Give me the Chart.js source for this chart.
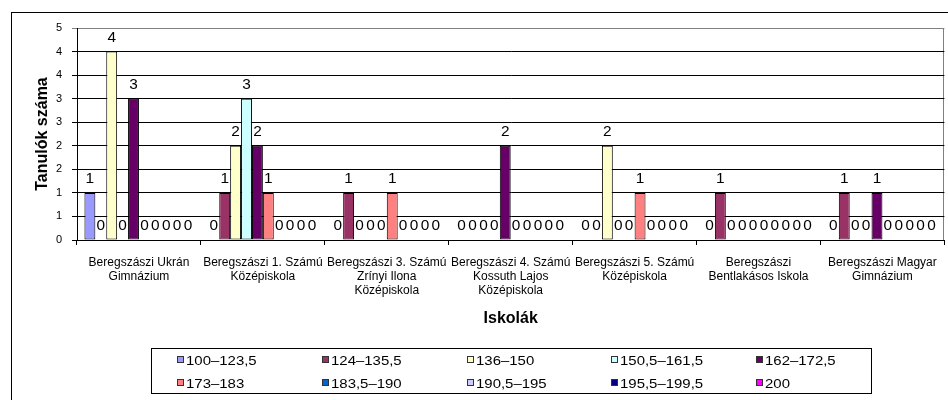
<!DOCTYPE html>
<html lang="hu">
<head>
<meta charset="utf-8">
<title>Tanulók száma iskolánként</title>
<script src="https://cdn.jsdelivr.net/npm/chart.js@4.4.1/dist/chart.umd.min.js"></script>
<style>
    html, body { margin: 0; padding: 0; background: #fff; }
    #chartWrap { position: relative; width: 948px; height: 400px; }
</style>
</head>
<body>
<div id="chartWrap"><canvas id="schoolChart"></canvas></div>
<script>
// Iskolák (x tengely)
const schools = [
    ['Beregszászi Ukrán', 'Gimnázium'],
    ['Beregszászi 1. Számú', 'Középiskola'],
    ['Beregszászi 3. Számú', 'Zrínyi Ilona', 'Középiskola'],
    ['Beregszászi 4. Számú', 'Kossuth Lajos', 'Középiskola'],
    ['Beregszászi 5. Számú', 'Középiskola'],
    ['Beregszászi', 'Bentlakásos Iskola'],
    ['Beregszászi Magyar', 'Gimnázium']
];

// Pontszám-sávok és színeik
const rangeLabels = ['100–123,5', '124–135,5', '136–150', '150,5–161,5', '162–172,5',
                     '173–183', '183,5–190', '190,5–195', '195,5–199,5', '200'];
const rangeColors = ['#9999FF', '#993366', '#FFFFCC', '#CCFFFF', '#660066',
                     '#FF8080', '#0066CC', '#CCCCFF', '#000080', '#FF00FF'];

// Tanulók száma sávonként, az iskolák sorrendjében
const r100 = [1, 0, 0, 0, 0, 0, 0];
const r124 = [0, 1, 1, 0, 0, 1, 1];
const r136 = [4, 2, 0, 0, 2, 0, 0];
const r150 = [0, 3, 0, 0, 0, 0, 0];
const r162 = [3, 2, 0, 2, 0, 0, 1];
const r173 = [0, 1, 1, 0, 1, 0, 0];
const r183 = [0, 0, 0, 0, 0, 0, 0];
const r190 = [0, 0, 0, 0, 0, 0, 0];
const r195 = [0, 0, 0, 0, 0, 0, 0];
const r200 = [0, 0, 0, 0, 0, 0, 0];
const rangeValues = [r100, r124, r136, r150, r162, r173, r183, r190, r195, r200];

// y tengely: 0..4,5 fél lépésekkel (Excel egészre kerekítve írja ki)
const yMin = 0;
const yMax = 4.5;
const yStep = 0.5;

const FONT = 'Arial, "Liberation Sans", sans-serif';

function drawFrame(chart) {
    const ctx = chart.ctx;
    const a = chart.chartArea;
    ctx.save();
    ctx.fillStyle = '#fff';
    ctx.fillRect(0, 0, chart.width, chart.height);
    // külső keret (jobbra és lent kilóg a képből)
    ctx.strokeStyle = '#000';
    ctx.lineWidth = 1;
    ctx.strokeRect(11.5, 12.5, chart.width + 20, chart.height + 20);
    // rajzterület szürke kerete
    ctx.strokeStyle = '#808080';
    ctx.strokeRect(Math.round(a.left) + 0.5, Math.round(a.top) + 0.5,
        Math.round(a.right - a.left) - 1, Math.round(a.bottom - a.top));
    ctx.restore();
}

// Excel-szerű, kissé széthúzott felirat
function wideText(ctx, text, x, y, stretch) {
    ctx.save();
    ctx.translate(x, y);
    ctx.scale(stretch, 1);
    ctx.fillText(text, 0, 0);
    ctx.restore();
}

function drawValueLabels(chart) {
    const ctx = chart.ctx;
    ctx.save();
    ctx.font = '14px ' + FONT;
    ctx.fillStyle = '#000';
    ctx.textAlign = 'center';
    ctx.textBaseline = 'alphabetic';
    chart.data.datasets.forEach((ds, i) => {
        const meta = chart.getDatasetMeta(i);
        meta.data.forEach((bar, j) => {
            wideText(ctx, String(ds.data[j]), bar.x, bar.y - 10, 1.1);
        });
    });
    ctx.restore();
}

function drawLegend(chart) {
    const ctx = chart.ctx;
    const a = chart.chartArea;
    const boxW = 720;
    const boxH = 45;
    const left = Math.round((a.left + a.right) / 2 - boxW / 2);
    const top = 348;
    ctx.save();
    ctx.strokeStyle = '#000';
    ctx.lineWidth = 1;
    ctx.strokeRect(left + 0.5, top + 0.5, boxW, boxH);
    ctx.font = '13px ' + FONT;
    ctx.textAlign = 'left';
    ctx.textBaseline = 'middle';
    chart.data.datasets.forEach((ds, i) => {
        const col = i % 5;
        const row = Math.floor(i / 5);
        const x = Math.round(left + 26 + col * 144.75);
        const y = top + 12 + row * 23;
        ctx.fillStyle = ds.backgroundColor;
        ctx.fillRect(x, y - 4, 7, 7);
        ctx.strokeStyle = '#333';
        ctx.strokeRect(x + 0.5, y - 3.5, 6, 6);
        ctx.fillStyle = '#000';
        wideText(ctx, ds.label, x + 9, y + 1, 1.15);
    });
    ctx.restore();
}

const excelLook = {
    id: 'excelLook',
    beforeDraw: drawFrame,
    afterDatasetsDraw: drawValueLabels,
    afterDraw: drawLegend
};

function buildDatasets() {
    return rangeLabels.map((label, i) => ({
        label: label,
        data: rangeValues[i],
        backgroundColor: rangeColors[i],
        borderColor: '#000',
        borderWidth: 1,
        borderSkipped: false,
        categoryPercentage: 0.88,
        barPercentage: 1
    }));
}

function setupChart() {
    const ctx = document.getElementById('schoolChart');
    new Chart(ctx, {
        type: 'bar',
        data: {
            labels: schools,
            datasets: buildDatasets()
        },
        options: {
            responsive: true,
            maintainAspectRatio: false,
            animation: false,
            layout: {
                padding: { left: 0, top: 28, right: 3, bottom: 70 }
            },
            plugins: {
                legend: { display: false },
                tooltip: { enabled: false }
            },
            scales: {
                x: {
                    grid: {
                        offset: true,
                        drawOnChartArea: false,
                        drawTicks: true,
                        tickLength: 5,
                        color: '#000'
                    },
                    border: { color: '#000' },
                    ticks: {
                        color: '#000',
                        maxRotation: 0,
                        autoSkip: false,
                        padding: 11,
                        font: { family: FONT, size: 12, lineHeight: 1.15 }
                    },
                    title: {
                        display: true,
                        text: 'Iskolák',
                        color: '#000',
                        padding: { top: 0, bottom: 2 },
                        font: { family: FONT, size: 16, weight: 'bold' }
                    },
                    afterFit: scale => { scale.height = 90; }
                },
                y: {
                    min: yMin,
                    max: yMax,
                    grid: {
                        color: c => (c.tick && c.tick.value === yMax ? '#808080' : '#000'),
                        lineWidth: 1,
                        tickLength: 5
                    },
                    border: { color: '#000' },
                    ticks: {
                        stepSize: yStep,
                        color: '#000',
                        padding: 10,
                        font: { family: FONT, size: 11 },
                        callback: v => Math.round(v)
                    },
                    title: {
                        display: true,
                        text: 'Tanulók száma',
                        color: '#000',
                        padding: { top: 33, bottom: 0 },
                        font: { family: FONT, size: 16, weight: 'bold' }
                    },
                    afterFit: scale => { scale.width = 77; }
                }
            }
        },
        plugins: [excelLook]
    });
}

document.addEventListener('DOMContentLoaded', function() {
    setupChart();
});
</script>
</body>
</html>
